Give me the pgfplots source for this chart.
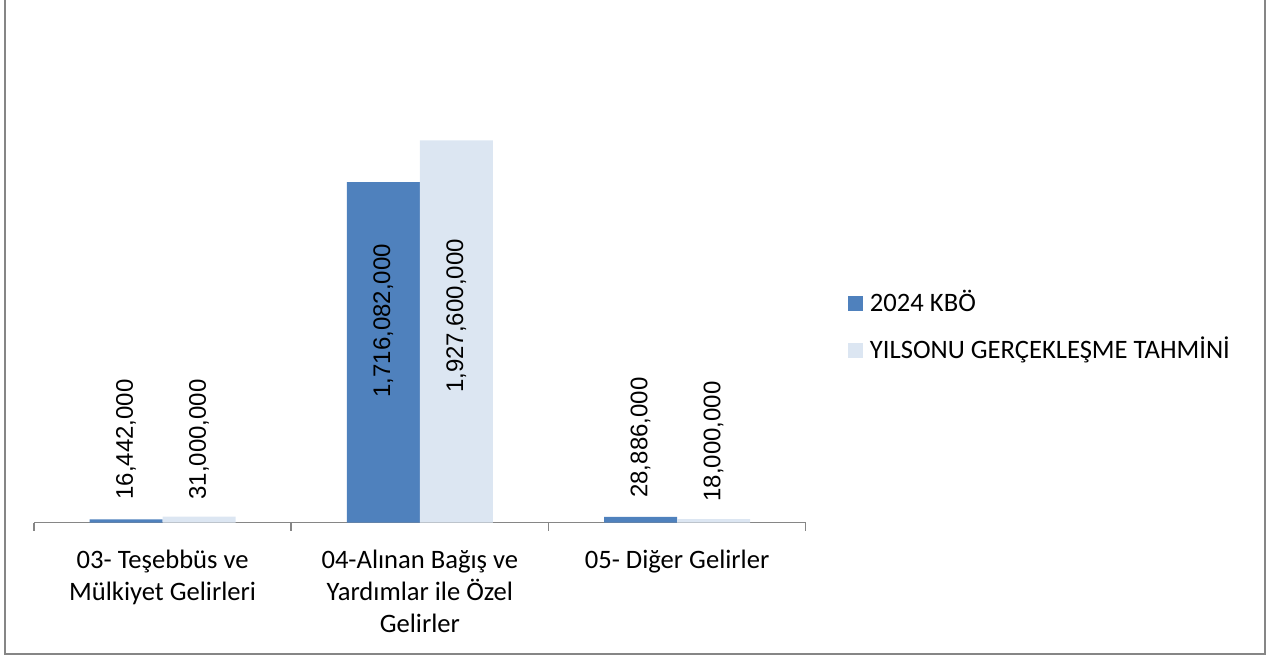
\documentclass[border=0pt]{standalone}
\usepackage{fontspec}
\usepackage{pgfplots}
\usepackage{pgfplotstable}
\pgfplotsset{compat=1.18}
\setmainfont{Carlito}
\newfontfamily\labfont{Liberation Sans}
\definecolor{cA}{HTML}{4F81BD}
\definecolor{cB}{HTML}{DCE6F2}
\definecolor{axgray}{HTML}{868686}

\pgfplotstableread{
x kbo tahmin
0 16442000 31000000
1 1716082000 1927600000
2 28886000 18000000
}\datatable

\pgfplotstableread{
x y lab
-0.142 114e6 16,442,000
0.142 114e6 31,000,000
0.858 628e6 1,716,082,000
1.142 653e6 1,927,600,000
1.858 124e6 28,886,000
2.142 104e6 18,000,000
}\labeltable

\begin{document}
\begin{tikzpicture}[x=0.5pt,y=0.5pt]
\useasboundingbox (0,0) rectangle (1273,657);
\draw[axgray, line width=1pt] (5,670) -- (5,2.5) -- (1265,2.5) -- (1265,670);
\begin{axis}[
  at={(17pt,67.15pt)}, anchor=south west,
  scale only axis, width=385.85pt, height=248pt,
  xmin=-0.5, xmax=2.5, ymin=0, ymax=2.5e9,
  clip=false,
  hide y axis,
  axis x line*=bottom,
  axis line style={axgray, line width=0.75pt, -},
  xtick={0,1,2},
  xticklabels={{03- Teşebbüs ve\\Mülkiyet Gelirleri},{04-Alınan Bağış ve\\Yardımlar ile Özel\\Gelirler},{05- Diğer Gelirler}},
  major tick length=0pt,
  minor xtick={-0.5,0.5,1.5,2.5},
  minor tick length=4pt,
  tick align=outside,
  minor x tick style={axgray, line width=0.75pt},
  xticklabel style={font=\fontsize{13.3}{16}\selectfont, align=center, inner sep=0pt, anchor=north, yshift=-13.5pt},
  legend style={at={(1.0548,0.4651)}, anchor=north west, draw=none, fill=none, inner sep=0pt, outer sep=0pt,
    font=\fontsize{13.3}{15}\selectfont, row sep=11pt, column sep=3.5pt,
    nodes={inner sep=0pt, text height=9.5pt, text depth=3pt, anchor=base west}},
  legend cell align=left,
  legend image code/.code={\fill[#1] (0pt,0pt) rectangle (7.5pt,7.5pt);},
]
\addplot[ybar, bar width=0.284, bar shift=-0.142, fill=cA, draw=none] table[x=x, y=kbo] {\datatable};
\addlegendentry{2024 KBÖ}
\addplot[ybar, bar width=0.284, bar shift=0.142, fill=cB, draw=none] table[x=x, y=tahmin] {\datatable};
\addlegendentry{YILSONU GERÇEKLEŞME TAHMİNİ}
\addplot[forget plot, draw=none, mark=none, point meta=explicit symbolic,
  nodes near coords={\pgfplotspointmeta},
  every node near coord/.append style={rotate=90, anchor=west, inner sep=0pt, font=\labfont\fontsize{12}{14}\selectfont, text=black}]
  table[x=x, y=y, meta=lab] {\labeltable};
\end{axis}
\end{tikzpicture}
\end{document}
